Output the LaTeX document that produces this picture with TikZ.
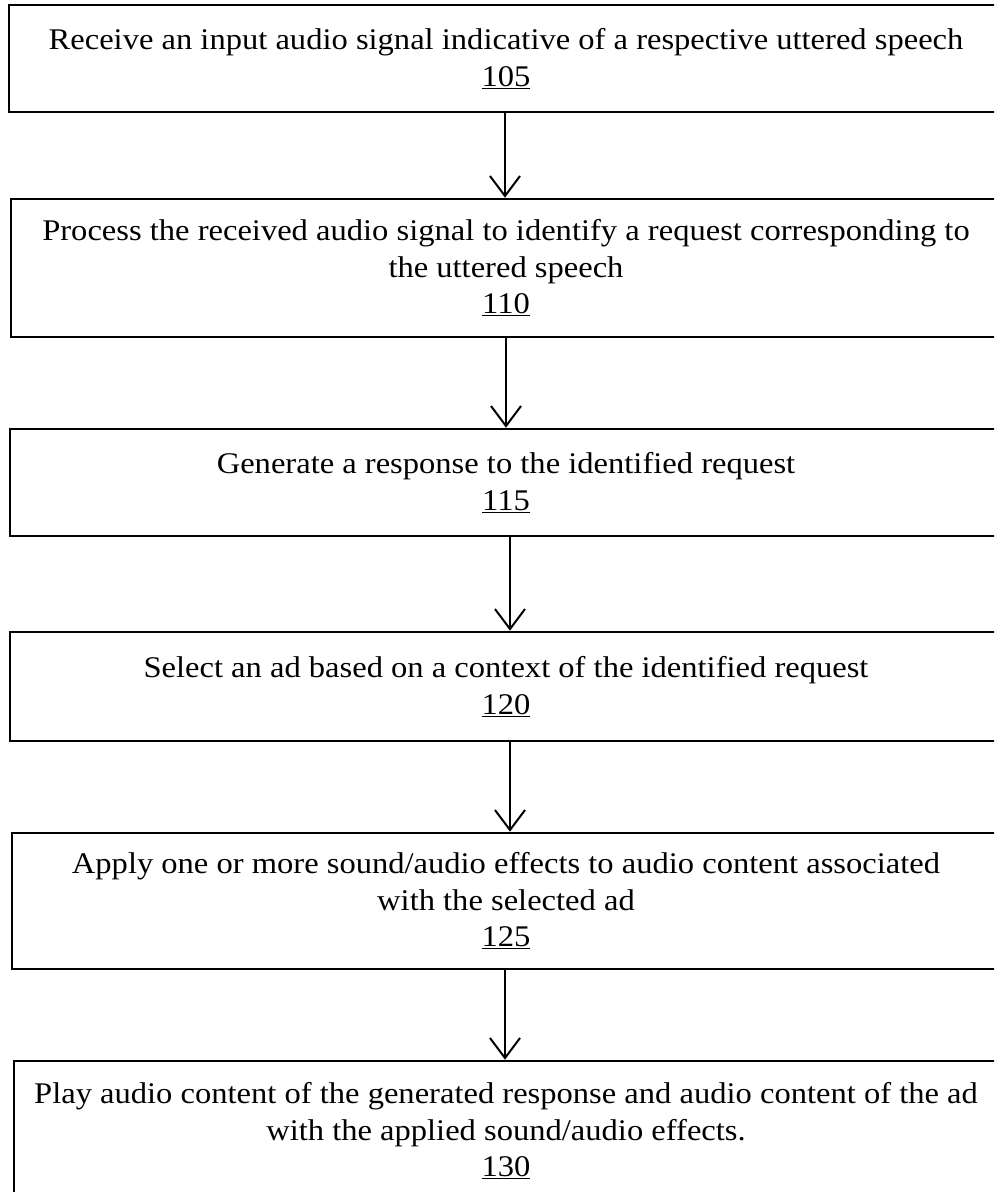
\documentclass[tikz,border=0pt]{standalone}
\usepackage{fontspec}
\setmainfont{Liberation Serif}[FakeStretch=1.085]
\usetikzlibrary{arrows.meta}
\begin{document}
\begin{tikzpicture}[x=1pt,y=-1pt,
  stepbox/.style={draw, line width=2.6pt, rectangle, align=center, inner sep=0pt,
    font=\fontsize{30}{36.5}\selectfont},
  flow/.style={draw, line width=2pt, -{Straight Barb[length=20pt,width=30pt,line width=2pt]}}]
\useasboundingbox (0,0) rectangle (994,1192);
\clip (0,0) rectangle (994,1192);
\node[stepbox, minimum width=994pt, minimum height=107pt] (b1) at (506,58.5)
  {Receive an input audio signal indicative of a respective uttered speech\\\underline{105}};
\node[stepbox, minimum width=990pt, minimum height=138pt] (b2) at (506,268)
  {Process the received audio signal to identify a request corresponding to\\the uttered speech\\\underline{110}};
\node[stepbox, minimum width=992pt, minimum height=107pt] (b3) at (506,482.5)
  {Generate a response to the identified request\\\underline{115}};
\node[stepbox, minimum width=992pt, minimum height=109pt] (b4) at (506,686.5)
  {Select an ad based on a context of the identified request\\\underline{120}};
\node[stepbox, minimum width=988pt, minimum height=136pt] (b5) at (506,901)
  {Apply one or more sound/audio effects to audio content associated\\with the selected ad\\\underline{125}};
\node[stepbox, minimum width=984pt, minimum height=140pt] (b6) at (506,1131)
  {Play audio content of the generated response and audio content of the ad\\with the applied sound/audio effects.\\\underline{130}};
\draw[flow] ([xshift=-1pt]b1.south) -- ([xshift=-1pt]b2.north);
\draw[flow] (b2.south) -- (b3.north);
\draw[flow] ([xshift=4pt]b3.south) -- ([xshift=4pt]b4.north);
\draw[flow] ([xshift=4pt]b4.south) -- ([xshift=4pt]b5.north);
\draw[flow] ([xshift=-1pt]b5.south) -- ([xshift=-1pt]b6.north);
\end{tikzpicture}
\end{document}
